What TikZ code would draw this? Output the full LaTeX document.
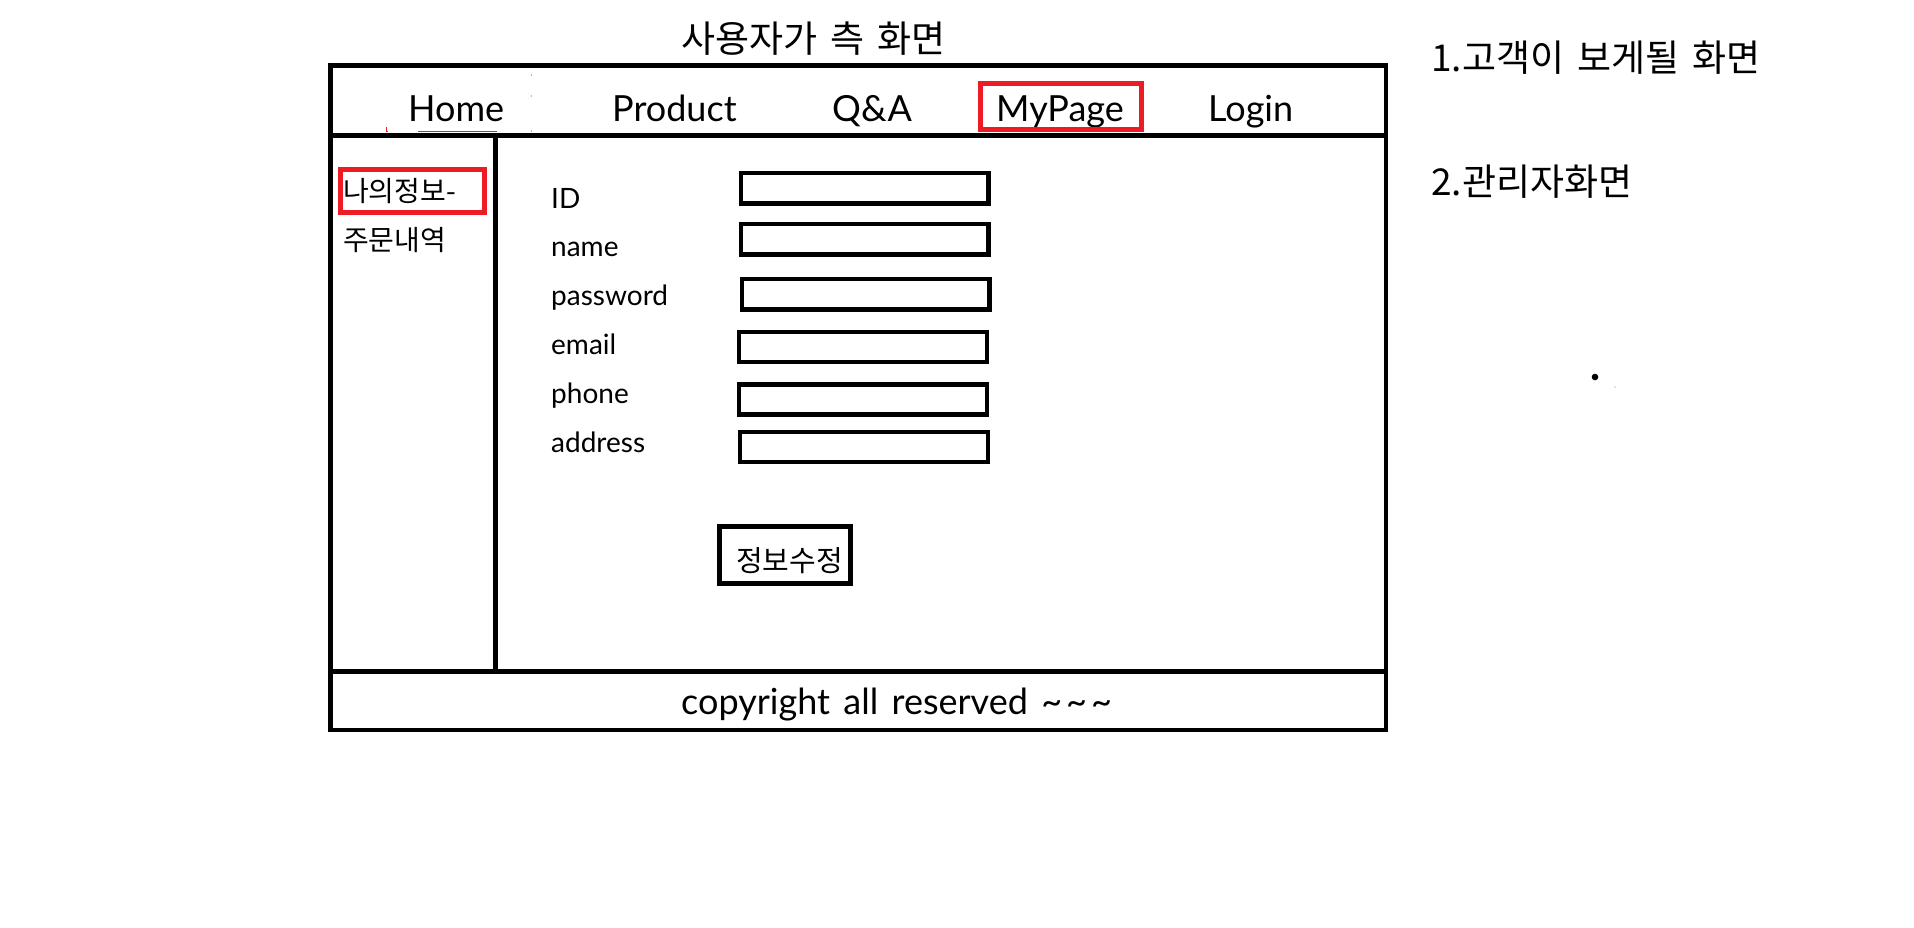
\documentclass[tikz,border=0pt]{standalone}
\usepackage{fontspec}
\setmainfont{Lato}
\newfontfamily\kr[WordSpace=1.6]{Noto Sans CJK KR}
\newfontfamily\latowide[WordSpace=1.45]{Lato}
\definecolor{pred}{RGB}{237,28,36}
\tikzset{
  frame/.style={draw=black,line width=4.7pt},
  field/.style={draw=black,line width=4.5pt},
  redbox/.style={draw=pred,line width=5pt},
  navtxt/.style={inner sep=0pt,anchor=base west,font=\fontsize{36}{40}\selectfont},
  lbl/.style={inner sep=0pt,anchor=base west,font=\fontsize{28}{32}\selectfont},
  krtxt/.style={inner sep=0pt,anchor=base west,font=\kr\fontsize{28}{32}\selectfont},
  krbig/.style={inner sep=0pt,anchor=base west,font=\kr\fontsize{37}{42}\selectfont},
}
\begin{document}
\begin{tikzpicture}[x=1pt,y=-1pt]
\useasboundingbox (0,0) rectangle (1914,927);
% outer frame
\draw[frame] (330.5,65.5) rectangle (1386,730);
\draw[frame] (330.5,135.5) -- (1386,135.5);
\draw[frame] (330.5,671.2) -- (1386,671.2);
\draw[frame] (495.3,135.5) -- (495.3,671.2);
% title and notes
\node[krbig] (title) at (681,52) {사용자가 측 화면};
\node[krbig] (note1) at (1431,71) {1.고객이 보게될 화면};
\node[krbig] (note2) at (1431,195) {2.관리자화면};
\fill (1595,377) circle (3.3);
\fill[black!50] (1615,387) circle (0.6);
% navigation
\node[navtxt] (home) at (408,121) {Home};
\node[navtxt] (product) at (612,121) {Product};
\node[navtxt] (qa) at (832,121) {Q\&A};
\node[navtxt] (mypage) at (996,121) {MyPage};
\node[navtxt] (login) at (1208,121) {Login};
\draw[redbox] (980.5,83.2) rectangle (1141.5,129.8);
% red scribbles
\draw[pred,line width=0.9pt] (418.3,131) -- (496.7,131);
\draw[pred,line width=1pt] (386,127) -- (386,131) -- (388,131);
\foreach \yy in {75,96,131} \fill[pred] (531.3,\yy) circle (0.6);
% sidebar
\node[krtxt] (myinfo) at (343,201) {나의정보-};
\node[krtxt] (orders) at (343,250) {주문내역};
\draw[redbox] (340.8,169.2) rectangle (484.8,212.5);
% form labels
\node[lbl] (lid) at (551,208.3) {ID};
\node[lbl] (lname) at (551,256.7) {name};
\node[lbl] (lpw) at (551,305.7) {password};
\node[lbl] (lemail) at (551,354) {email};
\node[lbl] (lphone) at (551,403) {phone};
\node[lbl] (laddr) at (551,452.3) {address};
% form fields
\draw[field] (741.2,173.2) rectangle (988.5,203.5);
\draw[field] (741.2,223.9) rectangle (988.5,254.5);
\draw[field] (742.2,278.9) rectangle (989.5,309.5);
\draw[field] (739.2,332.2) rectangle (986.8,362.1);
\draw[field] (739.2,384.5) rectangle (986.8,414.5);
\draw[field] (740.2,432.2) rectangle (987.8,462.1);
% button
\draw[draw=black,line width=5pt] (719.2,526.5) rectangle (850.2,583.2);
\node[inner sep=0pt,anchor=base west,font=\kr\fontsize{29}{32}\selectfont] (btn) at (736,571) {정보수정};
% footer
\node[inner sep=0pt,anchor=base west,font=\latowide\fontsize{36}{40}\selectfont] (copy) at (681,714.3) {copyright all reserved \textasciitilde\kern4pt\textasciitilde\kern4pt\textasciitilde};
\end{tikzpicture}
\end{document}
